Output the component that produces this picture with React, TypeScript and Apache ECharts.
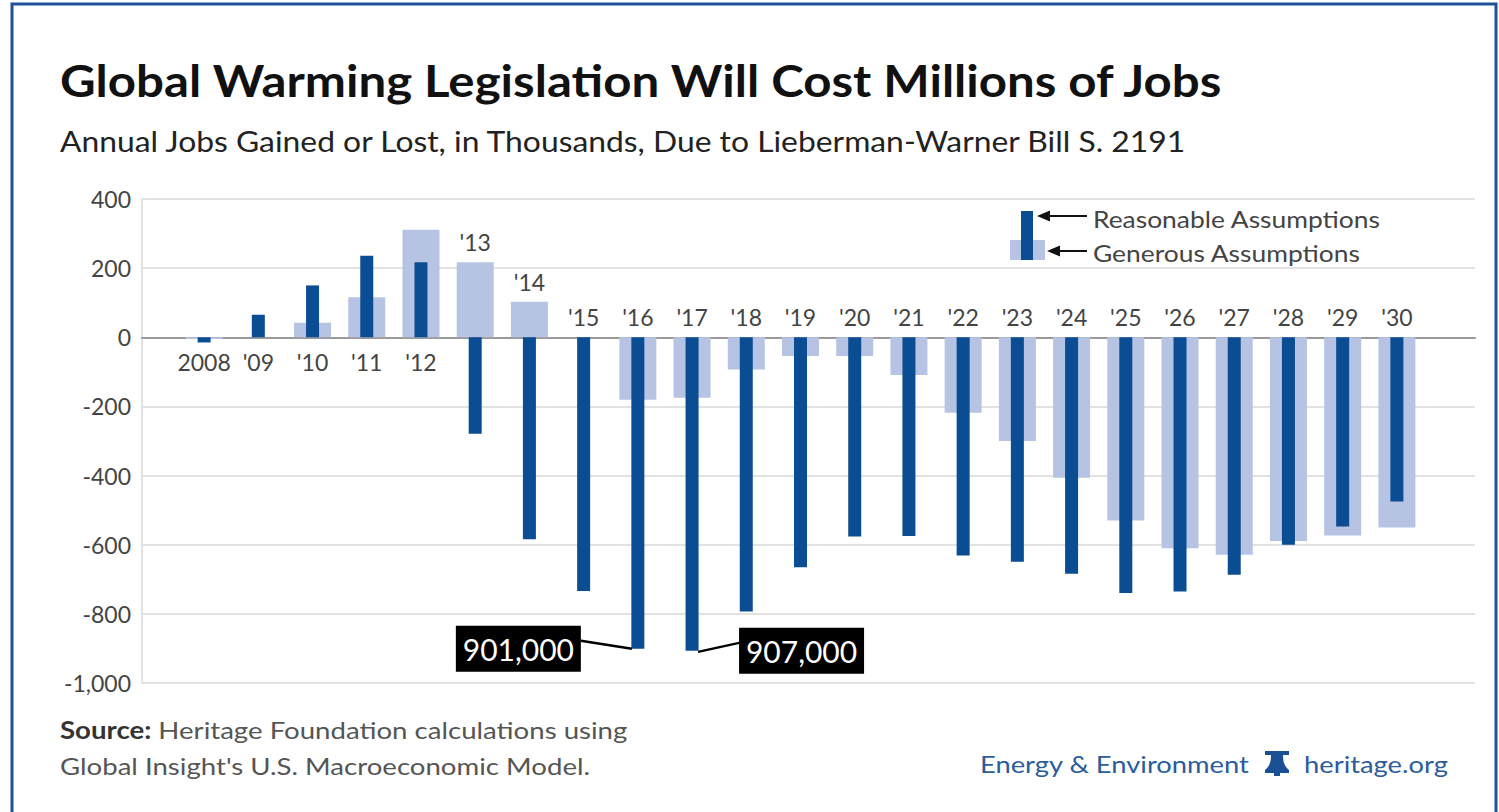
import React, { useEffect, useRef } from 'react';
import * as echarts from 'echarts';

const categories = ['2008', "'09", "'10", "'11", "'12", "'13", "'14", "'15", "'16", "'17", "'18", "'19", "'20", "'21", "'22", "'23", "'24", "'25", "'26", "'27", "'28", "'29", "'30"];
const reasonable = [-15, 65, 150, 236, 217, -279, -584, -734, -901, -907, -793, -665, -576, -575, -631, -649, -684, -740, -735, -687, -600, -547, -475];
const generous = [-5, 0, 42, 116, 311, 217, 103, 0, -181, -175, -93, -54, -54, -109, -218, -300, -406, -530, -610, -629, -589, -573, -550];
const yTicks = { min: -1000, max: 400, interval: 200 };
const callouts = [
  { cat: "'16", text: '901,000', side: 'left' },
  { cat: "'17", text: '907,000', side: 'right' },
];
const legendItems = ['Reasonable Assumptions', 'Generous Assumptions'];
const titleText = 'Global Warming Legislation Will Cost Millions of Jobs';
const subtitleText = 'Annual Jobs Gained or Lost, in Thousands, Due to Lieberman-Warner Bill S. 2191';
const sourceLines = ['Heritage Foundation calculations using', "Global Insight's U.S. Macroeconomic Model."];

const FONT = 'Lato, "Open Sans", sans-serif';
const DARK = '#0b4d93';
const LIGHT = '#b6c3e2';
const TEXT = '#444444';
const BLUE = '#2b5c9c';

const bellPath = 'M1 0 H25 V4 H19 C19 10 20 15 25 19 V22 H1 V19 C6 15 7 10 7 4 H1 Z M10 22 H16 V25 H10 Z';
echarts.graphic.registerShape('bell', (echarts.graphic as any).extendPath(bellPath, {}));

function fmt(v: number) {
  const s = Math.abs(v).toString().replace(/\B(?=(\d{3})+(?!\d))/g, ',');
  return (v < 0 ? '-' : '') + s;
}

export default function App() {
  const ref = useRef<HTMLDivElement>(null);
  useEffect(() => {
    const chart = echarts.init(ref.current!, null, { renderer: 'svg' });
    const gridTop = 199;
    const gridHeight = 484;
    const option: any = {
      animation: false,
      backgroundColor: '#ffffff',
      grid: [
        { left: 177, right: 75, top: gridTop, height: gridHeight },
        { left: 142, right: 24, top: gridTop, height: gridHeight },
      ],
      xAxis: [
        { type: 'category', gridIndex: 0, data: categories, show: false },
        { type: 'category', gridIndex: 0, data: categories, show: false },
        {
          type: 'value', gridIndex: 1, min: 0, max: 1,
          axisLine: { show: true, onZero: true, lineStyle: { color: '#9a9a9a', width: 2 } },
          axisTick: { show: false }, axisLabel: { show: false }, splitLine: { show: false },
        },
      ],
      yAxis: [
        { type: 'value', gridIndex: 0, ...yTicks, show: false, splitLine: { show: false } },
        {
          type: 'value', gridIndex: 1, ...yTicks,
          axisLine: { show: true, lineStyle: { color: '#e2e2e2', width: 2 } },
          axisTick: { show: false },
          splitLine: { show: true, lineStyle: { color: '#e2e2e2', width: 2 } },
          axisLabel: { color: TEXT, fontSize: 23, fontFamily: FONT, margin: 11, formatter: (v: number) => fmt(v) },
        },
      ],
      series: [
        {
          name: 'Generous Assumptions', type: 'bar', xAxisIndex: 0, yAxisIndex: 0,
          data: generous, barWidth: 37, itemStyle: { color: LIGHT }, z: 2,
        },
        {
          name: 'Reasonable Assumptions', type: 'bar', xAxisIndex: 1, yAxisIndex: 0,
          data: reasonable, barWidth: 13, itemStyle: { color: DARK }, z: 3,
        },
        {
          type: 'custom', xAxisIndex: 0, yAxisIndex: 0, z: 4, silent: true,
          data: categories.map((c, i) => [i, Math.max(0, generous[i], reasonable[i])]),
          renderItem: (params: any, api: any) => {
            const i = params.dataIndex;
            const below = reasonable[i] > -50;
            const p = api.coord([i, below ? 0 : api.value(1)]);
            return {
              type: 'text', x: p[0], y: below ? p[1] + 25 : p[1] - 20,
              style: { text: categories[i], align: 'center', verticalAlign: 'middle', fontSize: 23, fontFamily: FONT, fill: TEXT },
            };
          },
        },
        {
          type: 'custom', xAxisIndex: 1, yAxisIndex: 0, z: 5, silent: true,
          data: callouts.map((c) => { const i = categories.indexOf(c.cat); return [i, reasonable[i]]; }),
          renderItem: (params: any, api: any) => {
            const c = callouts[params.dataIndex];
            const p = api.coord([api.value(0), api.value(1)]);
            const bx = p[0];
            const by = p[1];
            const w = 125;
            const h = 46;
            const left = c.side === 'left';
            const boxX = left ? bx - 57 - w : bx + 47;
            const lineStart = left ? [bx - 6, by] : [bx + 6, by + 1];
            const lineEnd = left ? [bx - 57, by - 8] : [bx + 47, by - 8];
            return {
              type: 'group',
              children: [
                { type: 'line', shape: { x1: lineStart[0], y1: lineStart[1], x2: lineEnd[0], y2: lineEnd[1] }, style: { stroke: '#000', lineWidth: 2.5 } },
                { type: 'rect', shape: { x: boxX, y: by - 23, width: w, height: h }, style: { fill: '#000' } },
                { type: 'text', x: boxX + w / 2, y: by, style: { text: c.text, align: 'center', verticalAlign: 'middle', fontSize: 30, fontFamily: FONT, fill: '#fff' } },
              ],
            };
          },
        },
      ],
      graphic: [
        { type: 'rect', shape: { x: 12, y: 4, width: 1484, height: 900 }, style: { fill: 'none', stroke: '#1d5396', lineWidth: 3 }, silent: true },
        { type: 'text', x: 60, y: 80, scaleX: 1.118, style: { text: titleText, fontSize: 44, fontWeight: 'bold', fontFamily: FONT, fill: '#111', verticalAlign: 'middle' } },
        { type: 'text', x: 60, y: 141, scaleX: 1.137, style: { text: subtitleText, fontSize: 28, fontFamily: FONT, fill: '#222', verticalAlign: 'middle' } },
        // legend
        { type: 'rect', shape: { x: 1010, y: 240, width: 35, height: 20 }, style: { fill: LIGHT } },
        { type: 'rect', shape: { x: 1021, y: 211, width: 12, height: 49 }, style: { fill: DARK } },
        { type: 'line', shape: { x1: 1046, y1: 216, x2: 1087, y2: 216 }, style: { stroke: '#111', lineWidth: 2 } },
        { type: 'polygon', shape: { points: [[1037, 216], [1050, 210.5], [1050, 221.5]] }, style: { fill: '#111' } },
        { type: 'line', shape: { x1: 1056, y1: 251, x2: 1087, y2: 251 }, style: { stroke: '#111', lineWidth: 2 } },
        { type: 'polygon', shape: { points: [[1047, 251], [1060, 245.5], [1060, 256.5]] }, style: { fill: '#111' } },
        { type: 'text', x: 1093, y: 218, scaleX: 1.1, style: { text: legendItems[0], fontSize: 24, fontFamily: FONT, fill: TEXT, verticalAlign: 'middle' } },
        { type: 'text', x: 1093, y: 252, scaleX: 1.1, style: { text: legendItems[1], fontSize: 24, fontFamily: FONT, fill: TEXT, verticalAlign: 'middle' } },
        // footer
        {
          type: 'text', x: 60, y: 730, scaleX: 1.15,
          style: {
            text: '{b|Source:} ' + sourceLines[0], fontSize: 24, fontFamily: FONT, fill: '#555', verticalAlign: 'middle',
            rich: { b: { fontWeight: 'bold', fontSize: 24, fontFamily: FONT, fill: '#333' } },
          },
        },
        { type: 'text', x: 60, y: 766, scaleX: 1.15, style: { text: sourceLines[1], fontSize: 24, fontFamily: FONT, fill: '#555', verticalAlign: 'middle' } },
        { type: 'text', x: 980, y: 764, scaleX: 1.14, style: { text: 'Energy & Environment', fontSize: 24, fontFamily: FONT, fill: BLUE, verticalAlign: 'middle' } },
        { type: 'bell', x: 1264, y: 751, style: { fill: '#1a4f93' } },
        { type: 'text', x: 1304, y: 764, scaleX: 1.14, style: { text: 'heritage.org', fontSize: 24, fontFamily: FONT, fill: BLUE, verticalAlign: 'middle' } },
      ],
    };
    chart.setOption(option);
    return () => chart.dispose();
  }, []);
  return <div ref={ref} style={{ position: 'fixed', left: 0, top: 0, width: 1499, height: 812, background: '#fff' }} />;
}
